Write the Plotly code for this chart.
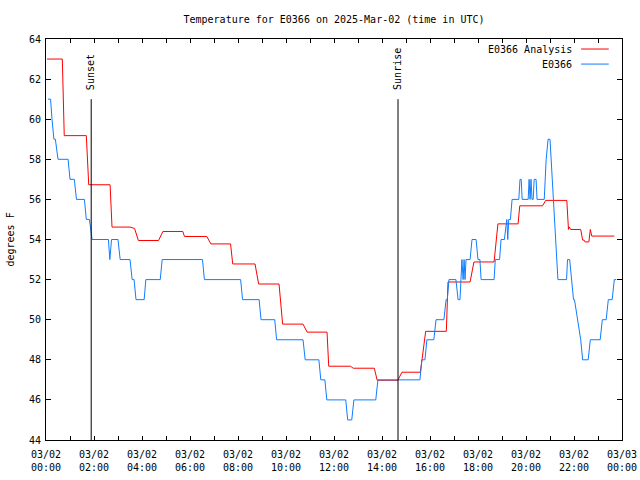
import pandas as pd
import plotly.graph_objects as go

# ---------------- data ----------------
BASE_DAY = "2025-03-02"

# E0366 Analysis (hours after 00:00 UTC, degrees F)
red_hours = [0.04, 0.68, 0.76, 1.68, 1.78, 2.67, 2.75, 3.5, 3.69, 3.85, 4.69, 4.87,
             5.70, 5.77, 6.70, 6.87, 7.69, 7.78, 8.71, 8.86, 9.71, 9.86, 10.71, 10.88,
             11.71, 11.78, 12.69, 12.80, 13.68, 13.80, 14.66, 14.83, 15.60, 15.82,
             16.68, 16.75, 17.67, 17.83, 18.67, 18.83, 19.67, 19.74, 20.69, 20.82,
             21.70, 21.77, 21.80, 21.86, 22.28, 22.36, 22.42, 22.46, 22.62, 22.68,
             22.74, 23.68]
red_temps = [63.0, 63.0, 59.18, 59.18, 56.73, 56.73, 54.62, 54.62, 54.55, 53.95, 53.95, 54.4,
             54.4, 54.15, 54.15, 53.78, 53.78, 52.78, 52.78, 51.78, 51.78, 49.78, 49.78, 49.38,
             49.38, 47.68, 47.68, 47.58, 47.58, 46.98, 46.98, 47.38, 47.38, 49.42,
             49.42, 51.88, 51.88, 52.88, 52.88, 54.78, 54.78, 55.68, 55.68, 55.95,
             55.95, 54.5, 54.63, 54.5, 54.5, 53.97, 53.97, 53.88, 53.88, 54.5,
             54.17, 54.17]

# E0366 observations (hours after 00:00 UTC, degrees F)
blue_hours = [0.08, 0.19, 0.25, 0.33, 0.39, 0.50, 0.92, 1.00, 1.18, 1.27, 1.60, 1.68,
              1.81, 1.92, 2.60, 2.66, 2.73, 3.00, 3.09, 3.50, 3.59, 3.67, 3.75, 4.09,
              4.16, 4.76, 4.84, 6.52, 6.60, 8.11, 8.19, 8.88, 8.96, 9.53, 9.61, 10.71,
              10.80, 11.37, 11.45, 11.62, 11.70, 12.49, 12.57, 12.74, 12.83, 13.74, 13.83,
              15.58, 15.66, 15.79, 15.87, 16.16, 16.25, 16.58, 16.67, 16.72, 16.79, 17.08,
              17.17, 17.25, 17.29, 17.33, 17.38, 17.42, 17.46, 17.50, 17.67, 17.75, 17.92,
              18.00, 18.08, 18.13, 18.67, 18.72, 18.90, 18.96, 19.10, 19.15, 19.20, 19.24,
              19.28, 19.35, 19.42, 19.70, 19.75, 19.80, 19.84, 20.09, 20.13, 20.17, 20.21,
              20.25, 20.30, 20.34, 20.42, 20.46, 20.76, 20.84, 20.92, 21.00, 21.33, 21.69,
              21.73, 21.82, 21.90, 21.98, 22.02, 22.15, 22.28, 22.36, 22.59, 22.68, 23.09,
              23.18, 23.34, 23.43, 23.59, 23.68, 23.76]
blue_temps = [61, 61, 60, 59, 59, 58, 58, 57, 57, 56, 56, 55,
              55, 54, 54, 53, 54, 54, 53, 53, 52, 52, 51, 51,
              52, 52, 53, 53, 52, 52, 51, 51, 50, 50, 49, 49,
              48, 48, 47, 47, 46, 46, 45, 45, 46, 46, 47,
              47, 48, 48, 49, 49, 50, 50, 51, 51, 52, 52,
              51, 51, 52, 53, 52, 53, 52, 53, 53, 54, 54,
              53, 53, 52, 52, 53, 53, 54, 54, 54.5, 55, 54,
              55, 55, 56, 56, 57, 57, 56, 56, 57, 56, 57,
              56, 56, 57, 57, 56, 56, 58, 59, 59, 52, 52,
              53, 53, 52, 51, 51, 50, 49, 48, 48, 49, 49,
              50, 50, 51, 51, 52, 52]

sunset_time = "2025-03-02 01:53"
sunrise_time = "2025-03-02 14:40"

title_text = "Temperature for E0366 on 2025-Mar-02 (time in UTC)"
y_label = "degrees F"
series_names = ["E0366 Analysis", "E0366"]
series_colors = ["#ff0000", "#0f7dff"]

# ---------------- figure ----------------
base = pd.Timestamp(BASE_DAY)


def to_times(hours):
    return [base + pd.Timedelta(hours=h) for h in hours]


FONT = "DejaVu Sans Mono"
FIG_W, FIG_H = 640, 480

fig = go.Figure()
fig.add_trace(go.Scatter(x=to_times(red_hours), y=red_temps, mode="lines",
                         name=series_names[0],
                         line=dict(color=series_colors[0], width=1)))
fig.add_trace(go.Scatter(x=to_times(blue_hours), y=blue_temps, mode="lines",
                         name=series_names[1],
                         line=dict(color=series_colors[1], width=1)))

# sunset / sunrise markers
for t, label in [(sunset_time, "Sunset"), (sunrise_time, "Sunrise")]:
    fig.add_shape(type="line", xref="x", yref="paper", x0=t, x1=t, y0=0, y1=0.85,
                  line=dict(color="black", width=1))
    fig.add_annotation(x=t, xref="x", y=0.868, yref="paper", text=label,
                       textangle=-90, showarrow=False, xanchor="center",
                       yanchor="bottom", font=dict(family=FONT, size=10, color="black"))

# custom legend (text left of line sample)
legend_rows = [0.975, 0.9375]
for name, color, ly in zip(series_names, series_colors, legend_rows):
    fig.add_annotation(x=0.916, y=ly, xref="paper", yref="paper", text=name,
                       showarrow=False, xanchor="right", yanchor="middle",
                       font=dict(family=FONT, size=10, color="black"))
    fig.add_shape(type="line", xref="paper", yref="paper", x0=0.929, x1=0.977,
                  y0=ly, y1=ly, line=dict(color=color, width=1))

# y-axis label
fig.add_annotation(x=-0.0625, y=0.5, xref="paper", yref="paper", text=y_label,
                   textangle=-90, showarrow=False, xanchor="center", yanchor="middle",
                   font=dict(family=FONT, size=10, color="black"))

fig.update_layout(
    width=FIG_W, height=FIG_H,
    margin=dict(l=46, r=18, t=39, b=40, pad=0, autoexpand=False),
    paper_bgcolor="white", plot_bgcolor="white",
    showlegend=False,
    font=dict(family=FONT, size=10, color="black"),
    title=dict(text=title_text, x=0.5, xref="paper", y=1 - 19 / FIG_H, yref="container",
               xanchor="center", yanchor="middle",
               font=dict(family=FONT, size=10, color="black")),
    xaxis=dict(
        type="date",
        range=["2025-03-02 00:00", "2025-03-03 00:00"],
        dtick=2 * 3600 * 1000, tick0="2025-03-02 00:00",
        tickformat="%m/%d<br>%H:%M",
        ticks="inside", ticklen=4, tickcolor="black", tickwidth=1,
        minor=dict(dtick=3600 * 1000, ticks="inside", ticklen=4, tickcolor="black"),
        showline=True, linecolor="black", linewidth=1, mirror="ticks",
        showgrid=False, zeroline=False, ticklabelstandoff=5,
        ticklabeloverflow="allow",
        tickfont=dict(family=FONT, size=10, color="black"),
    ),
    yaxis=dict(
        range=[44, 64], dtick=2, tick0=44,
        ticks="inside", ticklen=5, tickcolor="black", tickwidth=1,
        showline=True, linecolor="black", linewidth=1, mirror="ticks",
        showgrid=False, zeroline=False, ticklabelstandoff=2,
        tickfont=dict(family=FONT, size=10, color="black"),
    ),
)

# remove the browser's default 8px page margin so the figure fills the window
fig.write_html("out.html",
               config={"displayModeBar": False},
               post_script="document.body.style.margin='0';document.body.style.overflow='hidden';")
